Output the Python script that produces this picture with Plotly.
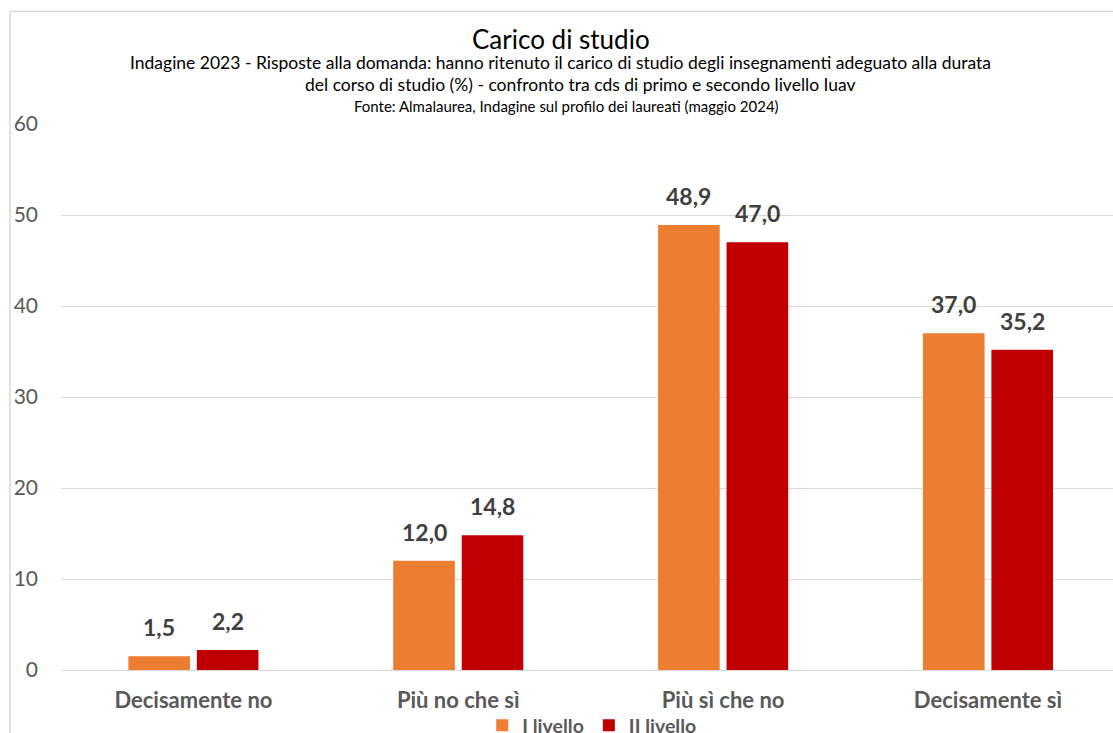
import plotly.graph_objects as go

categories = ["Decisamente no", "Più no che sì", "Più sì che no", "Decisamente sì"]
series_names = ["I livello", "II livello"]
values_I = [1.5, 12.0, 48.9, 37.0]
values_II = [2.2, 14.8, 47.0, 35.2]
y_ticks = [0, 10, 20, 30, 40, 50, 60]

title = "Carico di studio"
subtitle1 = "Indagine 2023 - Risposte alla domanda: hanno ritenuto il carico di studio degli insegnamenti adeguato alla durata"
subtitle2 = "del corso di studio (%) - confronto tra cds di primo e secondo livello Iuav"
source = "Fonte: Almalaurea, Indagine sul profilo dei laureati (maggio 2024)"

colors = ["#ED7D31", "#C00000"]
FONT = "Lato, 'Open Sans', sans-serif"

W, H = 1113, 733
ml, mr, mt, mb = 60.5, 0, 124, 63
pw = W - ml - mr
ph = H - mt - mb

fig = go.Figure()
for name, vals, col in zip(series_names, [values_I, values_II], colors):
    fig.add_trace(go.Bar(
        x=categories, y=vals, name=name,
        marker=dict(color=col, line=dict(width=0)),
    ))

# data labels
slot = (1 - 0.483) / 2 * (pw / 3.972)
for vals, sgn in zip([values_I, values_II], [-1, 1]):
    for c, v in zip(categories, vals):
        fig.add_annotation(
            x=c, y=v, xref="x", yref="y",
            text=f"{v:.1f}".replace(".", ","),
            showarrow=False, xshift=sgn * slot / 2, yshift=13, yanchor="bottom",
            font=dict(family=FONT, size=23, color="#404040", weight="bold"),
        )

def px2x(px):
    return (px - ml) / pw

def py2y(py):
    return (H - mb - py) / ph

for txt, cx, cy, sz in [(title, 561, 39, 26), (subtitle1, 560, 63, 17.5),
                        (subtitle2, 580, 84, 17.5), (source, 566, 106, 15)]:
    fig.add_annotation(text=txt, x=px2x(cx), y=py2y(cy), xref="paper", yref="paper",
                       xanchor="center", yanchor="middle", showarrow=False,
                       font=dict(family=FONT, size=sz, color="#000000"))

# chart border
fig.add_shape(type="rect", xref="paper", yref="paper",
              x0=px2x(9.5), x1=px2x(1125), y0=py2y(745), y1=py2y(11.5),
              line=dict(color="#D9D9D9", width=1.5), fillcolor="rgba(0,0,0,0)", layer="below")

fig.update_layout(
    width=W, height=H,
    margin=dict(l=ml, r=mr, t=mt, b=mb, pad=0, autoexpand=False),
    paper_bgcolor="white", plot_bgcolor="white",
    barmode="group", bargap=0.483, bargroupgap=0.1,
    separators=",.",
    font=dict(family=FONT, color="#595959"),
    showlegend=True,
    legend=dict(orientation="h", x=px2x(592), xanchor="center", y=py2y(706), yanchor="top",
                bgcolor="rgba(0,0,0,0)",
                font=dict(family=FONT, size=19.5, color="#595959", weight="bold"),
                itemsizing="constant", traceorder="normal", itemwidth=30),
    xaxis=dict(range=[-0.5, 3.472], showgrid=False, showline=False, ticks="",
               tickfont=dict(family=FONT, size=22, color="#595959", weight="bold"),
               ticklabelstandoff=15),
    yaxis=dict(range=[0, 60], tickvals=y_ticks, showgrid=True, gridcolor="#D9D9D9", gridwidth=1.3,
               zeroline=True, zerolinecolor="#D9D9D9", zerolinewidth=1.3, showline=False, ticks="",
               tickfont=dict(family=FONT, size=21, color="#595959"), ticklabelstandoff=22),
)

fig.write_html("out.html", config={"displayModeBar": False},
               post_script="document.body.style.margin='0';document.body.style.overflow='hidden';")
